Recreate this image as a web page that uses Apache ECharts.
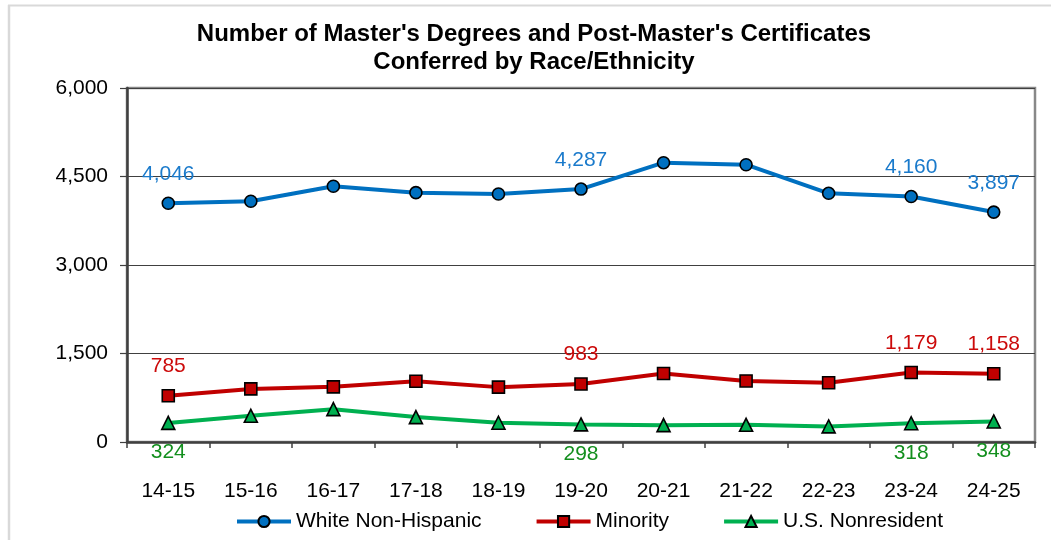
<!DOCTYPE html>
<html>
<head>
<meta charset="utf-8">
<script src="https://cdn.jsdelivr.net/npm/echarts@6/dist/echarts.min.js"></script>
<style>
  html, body { margin: 0; padding: 0; background: #fff; }
  #chart { width: 1051px; height: 540px; }
</style>
</head>
<body>
<div id="chart"></div>
<script>
// Academic years
const years = ['14-15', '15-16', '16-17', '17-18', '18-19', '19-20', '20-21', '21-22', '22-23', '23-24', '24-25'];

// Master's degrees and post-master's certificates conferred
const whiteNonHispanic = [4046, 4080, 4334, 4226, 4203, 4287, 4734, 4700, 4215, 4160, 3897];
const minority         = [785, 900, 935, 1030, 930, 983, 1160, 1035, 1005, 1179, 1158];
const usNonresident    = [324, 444, 557, 422, 326, 298, 286, 292, 264, 318, 348];

// Years whose values are printed on the chart
const labeledYears = ['14-15', '19-20', '23-24', '24-25'];

// Value axis ticks
const yTicks = [0, 1500, 3000, 4500, 6000];

const fmt = v => v.toLocaleString('en-US');
const FONT = '"Liberation Sans", Arial, sans-serif';
const FS = 21;

function withLabels(values, color, position) {
  return values.map((v, i) => ({
    value: v,
    label: {
      show: labeledYears.includes(years[i]),
      position: position,
      distance: 12,
      color: color,
      fontSize: FS,
      fontFamily: FONT,
      formatter: p => fmt(p.value)
    }
  }));
}

function lineSeries(name, values, color, symbol, labelColor, labelPos) {
  return {
    name: name,
    type: 'line',
    data: withLabels(values, labelColor, labelPos),
    symbol: symbol,
    symbolSize: symbol === 'triangle' ? 13 : 12,
    lineStyle: { color: color, width: 4 },
    itemStyle: { color: color, borderColor: '#000', borderWidth: 1.6 },
    emphasis: { disabled: true },
    animation: false,
    z: 3
  };
}

const chart = echarts.init(document.getElementById('chart'), null, { renderer: 'canvas' });

chart.setOption({
  backgroundColor: '#fff',
  animation: false,
  textStyle: { fontFamily: FONT },
  title: {
    text: "Number of Master's Degrees and Post-Master's Certificates\nConferred by Race/Ethnicity",
    left: 529,
    textAlign: 'center',
    top: 15,
    textStyle: { fontSize: 24, fontWeight: 'bold', color: '#000', lineHeight: 28, fontFamily: FONT }
  },
  graphic: [
    { type: 'line', shape: { x1: 9, y1: 5, x2: 9, y2: 540 }, style: { stroke: '#d9d9d9', lineWidth: 2.5 } },
    { type: 'line', shape: { x1: 8, y1: 5.5, x2: 1051, y2: 5.5 }, style: { stroke: '#d9d9d9', lineWidth: 2 } }
  ],
  legend: {
    left: 230,
    top: 506,
    itemWidth: 54,
    itemHeight: 14,
    itemGap: 53,
    lineStyle: { width: 4 },
    textStyle: { fontSize: FS, color: '#000', fontFamily: FONT },
    data: ['White Non-Hispanic', 'Minority', 'U.S. Nonresident']
  },
  grid: {
    left: 127,
    right: 16,
    top: 88,
    bottom: 98,
    show: true,
    borderColor: '#888',
    borderWidth: 2.5,
    backgroundColor: 'transparent'
  },
  xAxis: {
    type: 'category',
    data: years,
    boundaryGap: true,
    axisLine: { lineStyle: { color: '#404040', width: 2.5 } },
    axisTick: { show: true, length: 6, lineStyle: { color: '#404040', width: 1.5 } },
    axisLabel: { margin: 39, fontSize: FS, color: '#000', fontFamily: FONT }
  },
  yAxis: {
    type: 'value',
    min: yTicks[0],
    max: yTicks[yTicks.length - 1],
    interval: yTicks[1] - yTicks[0],
    axisLine: { show: true, lineStyle: { color: '#404040', width: 2.5 } },
    axisTick: { show: true, length: 7, lineStyle: { color: '#404040', width: 1.2 } },
    splitLine: { show: true, lineStyle: { color: '#404040', width: 1 } },
    axisLabel: { margin: 19, fontSize: FS, color: '#000', fontFamily: FONT, formatter: v => fmt(v) }
  },
  series: [
    lineSeries('White Non-Hispanic', whiteNonHispanic, '#0070C0', 'circle', '#1a7acb', 'top'),
    lineSeries('Minority', minority, '#C00000', 'rect', '#cc0a0a', 'top'),
    lineSeries('U.S. Nonresident', usNonresident, '#00B050', 'triangle', '#138f1e', 'bottom')
  ]
});
</script>
</body>
</html>
